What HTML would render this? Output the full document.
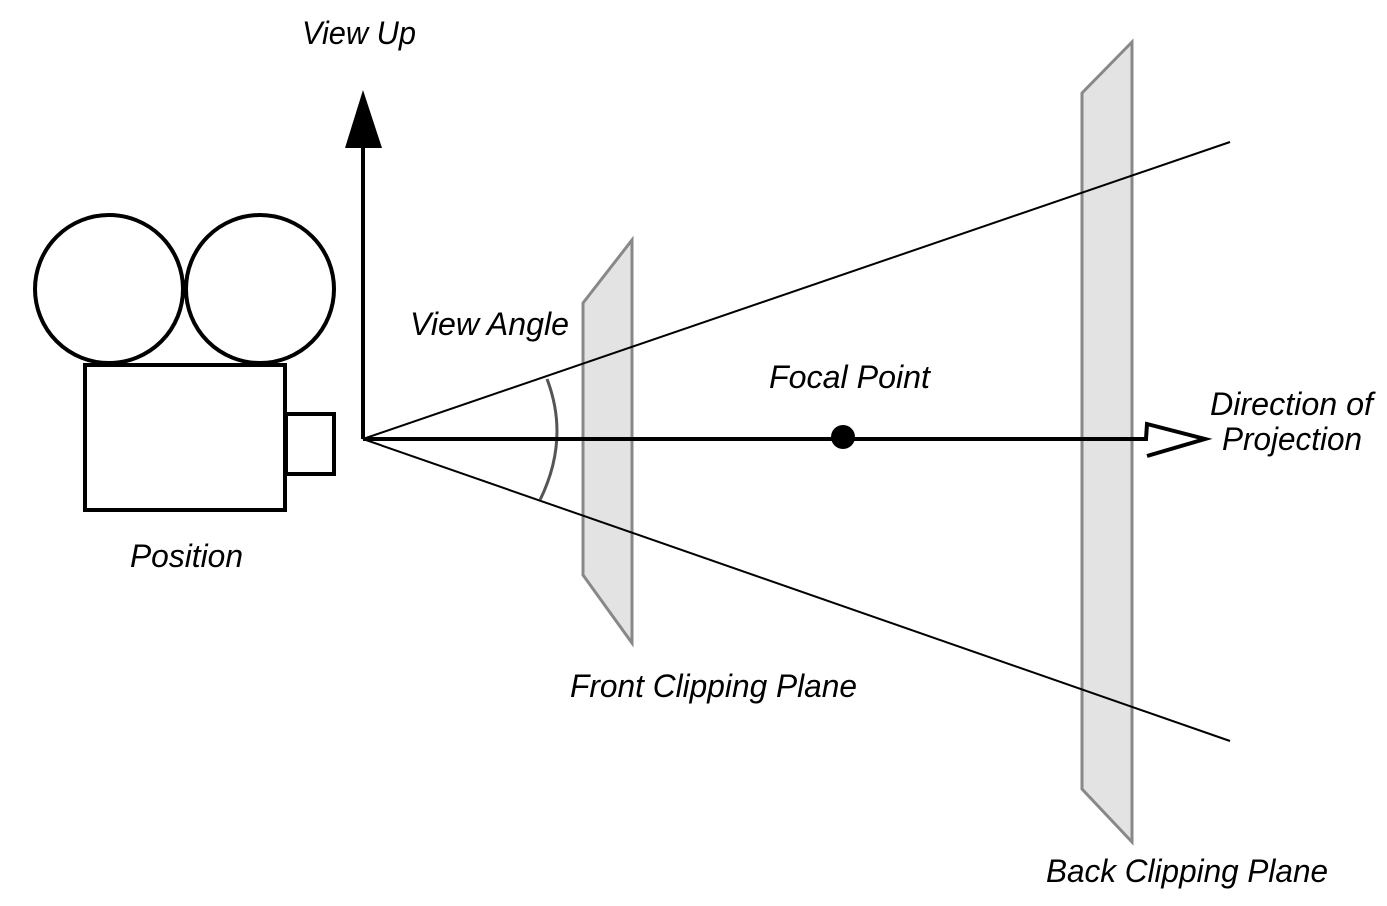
<!DOCTYPE html>
<html><head><style>
html,body{margin:0;padding:0;background:#fff;}
svg{display:block;}
text{font-family:"Liberation Sans",sans-serif;font-style:italic;font-size:32px;fill:#000;}
</style></head><body>
<svg width="1387" height="906" viewBox="0 0 1387 906" xmlns="http://www.w3.org/2000/svg">
<rect width="1387" height="906" fill="#fff"/>
<circle cx="109" cy="289" r="74" fill="none" stroke="#000" stroke-width="4"/>
<circle cx="260" cy="289" r="74" fill="none" stroke="#000" stroke-width="4"/>
<rect x="85" y="365" width="200" height="145" fill="none" stroke="#000" stroke-width="4"/>
<rect x="286" y="414" width="48" height="60" fill="none" stroke="#000" stroke-width="4"/>
<polygon points="583,303 632,240 632,643 583,575" fill="#e3e3e3" stroke="#888" stroke-width="3"/>
<polygon points="1082,93 1132,42 1132,842 1082,789" fill="#e3e3e3" stroke="#888" stroke-width="3"/>
<line x1="363" y1="439" x2="1230" y2="142" stroke="#000" stroke-width="2"/>
<line x1="363" y1="439" x2="1230" y2="741" stroke="#000" stroke-width="2"/>
<path d="M547,379 Q570,439 540,500" fill="none" stroke="#555" stroke-width="3"/>
<line x1="363" y1="439" x2="363" y2="145" stroke="#000" stroke-width="4"/>
<polygon points="363,90 382,148 345,148" fill="#000"/>
<polyline points="363,439 1146,439 1147,424 1205,439 1147,456" fill="none" stroke="#000" stroke-width="4" stroke-linejoin="miter"/>
<circle cx="843" cy="437" r="12" fill="#000"/>
<text x="302" y="44" textLength="114" lengthAdjust="spacingAndGlyphs">View Up</text>
<text x="410" y="335" textLength="159" lengthAdjust="spacingAndGlyphs">View Angle</text>
<text x="769" y="388" textLength="161" lengthAdjust="spacingAndGlyphs">Focal Point</text>
<text x="1210" y="415" textLength="163" lengthAdjust="spacingAndGlyphs">Direction of</text>
<text x="1222" y="450" textLength="140" lengthAdjust="spacingAndGlyphs">Projection</text>
<text x="130" y="567" textLength="113" lengthAdjust="spacingAndGlyphs">Position</text>
<text x="570" y="697" textLength="287" lengthAdjust="spacingAndGlyphs">Front Clipping Plane</text>
<text x="1046" y="882" textLength="282" lengthAdjust="spacingAndGlyphs">Back Clipping Plane</text>
</svg>
</body></html>
